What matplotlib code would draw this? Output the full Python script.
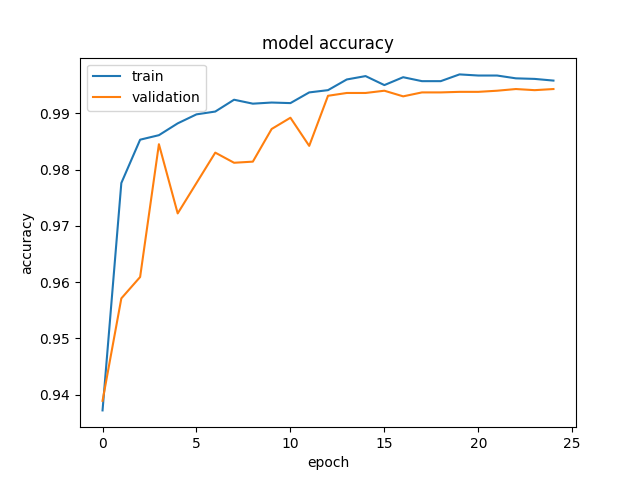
import matplotlib
matplotlib.use("Agg")
import matplotlib.pyplot as plt

epochs = list(range(25))
train = [0.9372, 0.9776, 0.9853, 0.9861, 0.9882, 0.9898, 0.9903, 0.9924, 0.9917,
         0.9919, 0.9918, 0.9937, 0.9941, 0.9960, 0.9966, 0.9950, 0.9964, 0.9957,
         0.9957, 0.9969, 0.9967, 0.9967, 0.9962, 0.9961, 0.9958]
validation = [0.9389, 0.9571, 0.9609, 0.9845, 0.9722, 0.9776, 0.9830, 0.9812, 0.9814,
              0.9872, 0.9892, 0.9842, 0.9931, 0.9936, 0.9936, 0.9940, 0.9930, 0.9937,
              0.9937, 0.9938, 0.9938, 0.9940, 0.9943, 0.9941, 0.9943]

fig = plt.figure(figsize=(6.4, 4.8), dpi=100)
plt.plot(epochs, train, label="train")
plt.plot(epochs, validation, label="validation")
plt.title("model accuracy")
plt.ylabel("accuracy")
plt.xlabel("epoch")
plt.legend(loc="upper left")
plt.savefig("out.png")
